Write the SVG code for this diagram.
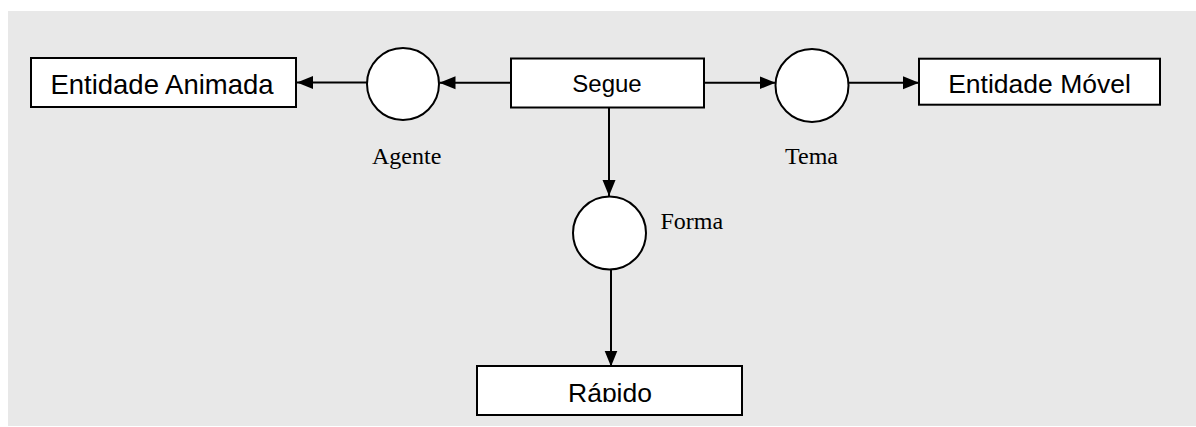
<svg xmlns="http://www.w3.org/2000/svg" width="1196" height="427" viewBox="0 0 1196 427">
<style>
.box{fill:#ffffff;stroke:#000000;stroke-width:2}
.role{fill:#ffffff;stroke:#000000;stroke-width:2}
.edge{stroke:#000000;stroke-width:2;fill:none}
.bt{font-family:"Liberation Sans",Arial,sans-serif;font-size:26.5px;fill:#000000;text-anchor:middle}
.lt{font-family:"Liberation Serif","Times New Roman",serif;font-size:24px;fill:#000000}
</style>
<defs>
<marker id="ah" markerUnits="userSpaceOnUse" markerWidth="16" markerHeight="14" refX="16" refY="7" orient="auto">
<path d="M0,0.5 L16,7 L0,13.5 z" fill="#000000"/>
</marker>
<clipPath id="rclip"><rect x="477" y="366" width="265" height="36"/></clipPath>
</defs>
<rect x="8" y="11" width="1188" height="415" fill="#e8e8e8"/>
<g id="connectors">
<line class="edge" x1="367.5" y1="82.5" x2="297" y2="82.5" marker-end="url(#ah)"/>
<line class="edge" x1="511" y1="82.7" x2="439.5" y2="82.7" marker-end="url(#ah)"/>
<line class="edge" x1="704" y1="82.7" x2="775.5" y2="82.7" marker-end="url(#ah)"/>
<line class="edge" x1="848.5" y1="82.7" x2="919" y2="82.7" marker-end="url(#ah)"/>
<line class="edge" x1="609" y1="108" x2="609" y2="196" marker-end="url(#ah)"/>
<line class="edge" x1="611" y1="269.5" x2="611" y2="366.5" marker-end="url(#ah)"/>
</g>
<g id="entidade-animada">
<rect class="box" x="31" y="58" width="265" height="49"/>
<text class="bt" x="162" y="94.3" style="font-size:27.5px">Entidade Animada</text>
</g>
<g id="agente">
<circle class="role" cx="403" cy="84" r="36"/>
<text class="lt" x="372" y="163.5">Agente</text>
</g>
<g id="segue">
<rect class="box" x="511" y="58.5" width="193" height="49"/>
<text class="bt" x="607" y="92" style="font-size:24px">Segue</text>
</g>
<g id="tema">
<circle class="role" cx="812" cy="85.5" r="36.5"/>
<text class="lt" x="785" y="163.5">Tema</text>
</g>
<g id="entidade-movel">
<rect class="box" x="919" y="58.7" width="241" height="46"/>
<text class="bt" x="1039.5" y="93.3">Entidade Móvel</text>
</g>
<g id="forma">
<circle class="role" cx="609.5" cy="233" r="36.5"/>
<text class="lt" x="660.5" y="228.5">Forma</text>
</g>
<g id="rapido">
<rect class="box" x="477" y="366" width="265" height="49"/>
<text class="bt" x="610" y="402" clip-path="url(#rclip)">Rápido</text>
</g>
</svg>
